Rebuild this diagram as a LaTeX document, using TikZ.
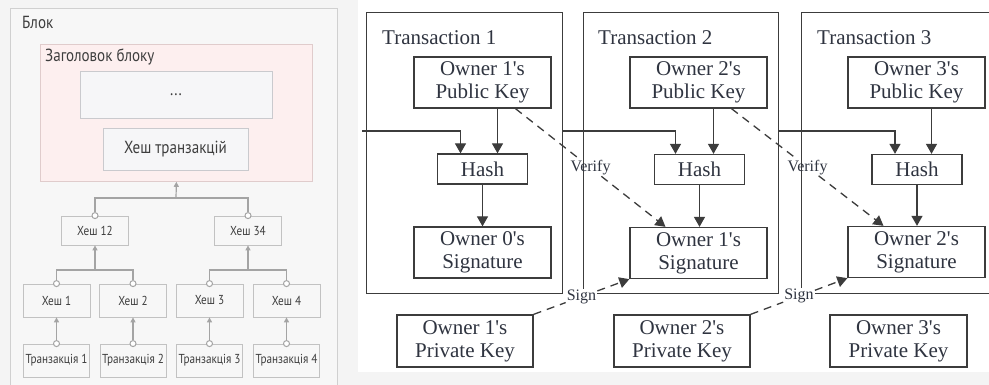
\documentclass[tikz,border=0pt]{standalone}
\usepackage{fontspec}
\setmainfont{Liberation Serif}
\newfontfamily\uafont[FakeStretch=0.86]{PT Sans}
\usetikzlibrary{arrows.meta,calc}

\definecolor{bgGrey}{HTML}{F4F4F4}
\definecolor{blkFill}{HTML}{F7F7F7}
\definecolor{blkEdge}{HTML}{D0D0D0}
\definecolor{pinkFill}{HTML}{FDEFEF}
\definecolor{pinkEdge}{HTML}{E0CCCC}
\definecolor{innerFill}{HTML}{F6F6F8}
\definecolor{innerEdge}{HTML}{CACACE}
\definecolor{boxFill}{HTML}{F7F7F7}
\definecolor{boxEdge}{HTML}{C2C2C2}
\definecolor{uaLine}{HTML}{A4A4A4}
\definecolor{uaText}{HTML}{3E3E3E}
\definecolor{txLine}{HTML}{3C3C3C}
\definecolor{txText}{HTML}{2F3440}

\newcommand{\apos}{\textquotesingle}

\tikzset{
  ua/.style={font=\uafont\fontsize{13}{15}\selectfont, text=uaText},
  uabig/.style={ua, font=\uafont\fontsize{17.5}{20}\selectfont},
  uabox/.style={ua, draw=boxEdge, fill=boxFill, line width=0.8pt,
    minimum width=67pt, minimum height=33pt, inner sep=0pt},
  uawire/.style={draw=uaLine, line width=1.2pt},
  uaarrow/.style={uawire, -{Triangle[length=5pt,width=5pt]}},
  uadot/.style={circle, draw=uaLine, fill=white, line width=1pt,
    inner sep=0pt, minimum size=6pt},
  txbox/.style={draw=txLine, line width=1.3pt, inner sep=0pt},
  keybox/.style={txbox, align=center, text=txText,
    font=\fontsize{21}{23}\selectfont, minimum width=137pt, minimum height=51pt},
  hashbox/.style={txbox, text=txText, font=\fontsize{21}{23}\selectfont,
    minimum width=90pt, minimum height=30pt},
  txtitle/.style={anchor=west, text=txText, font=\fontsize{21}{23}\selectfont, inner sep=0pt},
  arr/.style={draw=txLine, line width=1.3pt, -{Triangle[length=10pt,width=11pt]}},
  dashline/.style={draw=txLine, line width=1.3pt, dash pattern=on 8pt off 6pt},
  dasharr/.style={dashline, -{Triangle[length=10pt,width=11pt]}},
  smalllbl/.style={text=txText, font=\fontsize{16}{18}\selectfont, inner sep=1pt},
}

\begin{document}
\begin{tikzpicture}[x=1pt,y=-1pt]
\useasboundingbox (0,0) rectangle (989,385);
\clip (0,0) rectangle (989,385);

% backgrounds
\fill[bgGrey] (0,0) rectangle (989,385);
\fill[white] (358,0) rectangle (989,372);

% ---------------- block structure ----------------
\node[draw=blkEdge, fill=blkFill, line width=0.8pt, anchor=north west,
      minimum width=327pt, minimum height=392pt, inner sep=0pt] (blk) at (10,8) {};
\node[uabig, anchor=west, inner sep=0pt] (blklbl) at (22,22) {Блок};

\node[draw=pinkEdge, fill=pinkFill, line width=0.8pt, anchor=north west,
      minimum width=272pt, minimum height=137pt, inner sep=0pt] (hdr) at (40,44) {};
\node[uabig, anchor=west, inner sep=0pt] (hdrlbl) at (45,57) {Заголовок блоку};

\node[uabig, draw=innerEdge, fill=innerFill, line width=0.8pt, minimum width=192pt,
      minimum height=47pt, inner sep=0pt] (etc) at (176,94.5) {...};
\node[uabig, draw=innerEdge, fill=innerFill, line width=0.8pt, minimum width=145pt,
      minimum height=42pt, inner sep=0pt] (txh) at (175.5,149) {Хеш транзакцій};

\node[uabox, minimum height=29pt] (h12) at (95,230.5) {Хеш 12};
\node[uabox, minimum height=29pt] (h34) at (248,230.5) {Хеш 34};

\node[uabox] (ha) at (56.5,300.5) {Хеш 1};
\node[uabox] (hb) at (133,300.5) {Хеш 2};
\node[uabox] (hc) at (209.5,300.5) {Хеш 3};
\node[uabox] (hd) at (286.5,300.5) {Хеш 4};

\node[uabox, minimum width=66pt] (ta) at (56.5,360.5) {Транзакція 1};
\node[uabox, minimum width=66pt] (tb) at (133,360.5) {Транзакція 2};
\node[uabox, minimum width=66pt] (tc) at (209.5,360.5) {Транзакція 3};
\node[uabox, minimum width=66pt] (td) at (286.5,360.5) {Транзакція 4};

% transaction -> leaf hash
\foreach \t/\h in {ta/ha, tb/hb, tc/hc, td/hd}{
  \node[uadot] (dot\t) at (\t.north) {};
  \draw[uaarrow] (dot\t) -- (\h.south);
}
% leaf hashes -> pair hashes
\foreach \h in {ha,hb,hc,hd,h12,h34}{
  \node[uadot] (dot\h) at (\h.north) {};
}
\coordinate (jab) at (95,270);
\coordinate (jcd) at (248,270);
\coordinate (jtop) at (176,198);
\draw[uawire] (dotha) |- (jab) -| (dothb);
\draw[uaarrow] (jab) -- (h12.south);
\draw[uawire] (dothc) |- (jcd) -| (dothd);
\draw[uaarrow] (jcd) -- (h34.south);
\draw[uawire] (doth12) |- (jtop) -| (doth34);
\draw[uaarrow] (jtop) -- (hdr.south);

% ---------------- transaction chain ----------------
\node[txbox, anchor=north west, minimum width=196pt, minimum height=281pt] (t1) at (366,12) {};
\node[txbox, anchor=north west, minimum width=195pt, minimum height=281pt] (t2) at (583,12) {};
\node[txbox, anchor=north west, minimum width=260pt, minimum height=281pt] (t3) at (801,12) {};

\node[txtitle] (t1lbl) at (382,38) {Transaction 1};
\node[txtitle] (t2lbl) at (598,38) {Transaction 2};
\node[txtitle] (t3lbl) at (817,38) {Transaction 3};

\node[keybox] (pk1) at (482.5,82.5) {Owner 1\apos s\\Public Key};
\node[keybox] (pk2) at (698.5,82.5) {Owner 2\apos s\\Public Key};
\node[keybox] (pk3) at (916.5,82.5) {Owner 3\apos s\\Public Key};

\node[hashbox] (hs1) at (482.5,169) {Hash};
\node[hashbox] (hs2) at (699.5,169.5) {Hash};
\node[hashbox] (hs3) at (917,169.5) {Hash};

\node[keybox] (sg0) at (482.5,252.5) {Owner 0\apos s\\Signature};
\node[keybox] (sg1) at (698.5,253) {Owner 1\apos s\\Signature};
\node[keybox] (sg2) at (916.5,252) {Owner 2\apos s\\Signature};

\node[keybox, minimum width=136pt, minimum height=52pt] (pv1) at (465,341) {Owner 1\apos s\\Private Key};
\node[keybox, minimum width=136pt, minimum height=52pt] (pv2) at (682,341) {Owner 2\apos s\\Private Key};
\node[keybox, minimum width=137pt, minimum height=52pt] (pv3) at (898.5,341) {Owner 3\apos s\\Private Key};

% previous transaction feeds the next hash
\coordinate (in0) at (362,131);
\draw[arr] (in0) -| ([xshift=-22pt]hs1.north);
\draw[arr] (t1.east |- in0) -| ([xshift=-24pt]hs2.north);
\draw[arr] (t2.east |- in0) -| ([xshift=-22pt]hs3.north);

% public key -> hash -> signature
\foreach \k/\h/\s in {pk1/hs1/sg0, pk2/hs2/sg1, pk3/hs3/sg2}{
  \draw[arr] ([xshift=15pt]\k.south) -- ([xshift=15pt]\k.south |- \h.north);
  \draw[arr] (\h.south) -- (\h.south |- \s.north);
}

% verify links
\path ($([xshift=33pt]pk1.south)!0.5!([xshift=-33pt]sg1.north)$) node[smalllbl] (vf1) {Verify};
\draw[dashline] ([xshift=33pt]pk1.south) -- (vf1);
\draw[dasharr] (vf1) -- ([xshift=-33pt]sg1.north);
\path ($([xshift=33pt]pk2.south)!0.5!([xshift=-33pt]sg2.north)$) node[smalllbl] (vf2) {Verify};
\draw[dashline] ([xshift=33pt]pk2.south) -- (vf2);
\draw[dasharr] (vf2) -- ([xshift=-33pt]sg2.north);

% sign links
\path ($(pv1.north east)!0.5!(sg1.south west)$) node[smalllbl, fill=white] (sn1) {Sign};
\draw[dashline] (pv1.north east) -- (sn1);
\draw[dasharr] (sn1) -- (sg1.south west);
\path ($(pv2.north east)!0.5!(sg2.south west)$) node[smalllbl, fill=white] (sn2) {Sign};
\draw[dashline] (pv2.north east) -- (sn2);
\draw[dasharr] (sn2) -- (sg2.south west);
\end{tikzpicture}
\end{document}
